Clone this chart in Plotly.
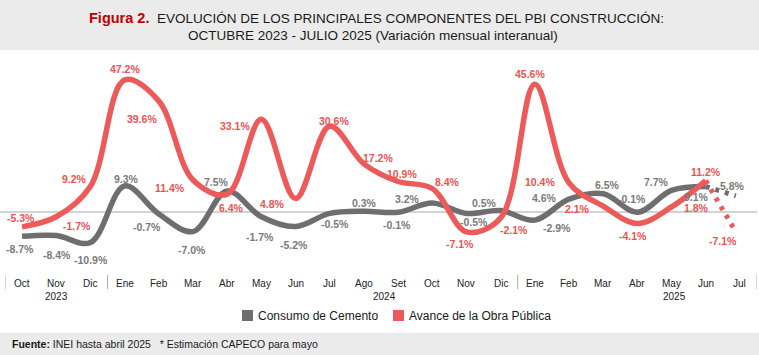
import plotly.graph_objects as go

# ---------------- data ----------------
months = ["Oct", "Nov", "Dic", "Ene", "Feb", "Mar", "Abr", "May", "Jun", "Jul", "Ago", "Set",
          "Oct", "Nov", "Dic", "Ene", "Feb", "Mar", "Abr", "May", "Jun", "Jul"]
years = ["2023", "2024", "2025"]
cemento = [-8.7, -8.4, -10.9, 9.3, -0.7, -7.0, 7.5, -1.7, -5.2, -0.5, 0.3, -0.1,
           3.2, -0.5, 0.5, -2.9, 4.6, 6.5, -0.1, 7.7, 9.1, 5.8]
obra = [-5.3, -1.7, 9.2, 47.2, 39.6, 11.4, 6.4, 33.1, 4.8, 30.6, 17.2, 10.9,
        8.4, -7.1, -2.1, 45.6, 10.4, 2.1, -4.1, 1.8, 11.2, -7.1]
series_names = ["Consumo de Cemento", "Avance de la Obra Pública"]
title_bold = "Figura 2."
title_line1 = "EVOLUCIÓN DE LOS PRINCIPALES COMPONENTES DEL PBI CONSTRUCCIÓN:"
title_line2 = "OCTUBRE 2023 - JULIO 2025 (Variación mensual interanual)"
footer_bold = "Fuente:"
footer_text = "INEI hasta abril 2025   * Estimación CAPECO para mayo"

# ---------------- styles / layout helpers ----------------
W, H = 759, 355
PL, PR, PT, PB = 5, 757, 50, 272   # plot area in pixels
N_SOLID = 21                       # last segment drawn dotted (estimate)
year_pos = [1, 10.6, 19.1]
year_bounds = [-0.5, 2.5, 14.5, 21.5]
GRAY = "#6E6E6E"
RED = "#EC5A5A"
GRAY_LBL = "#7A7A7A"
RED_LBL = "#EE5252"
FONT = "Liberation Sans, Arial"

# label offsets (px, dy positive = down)
red_off = [(-1, -9), (21, 9), (-16, -7), (0, -11), (-17, 18), (-23, 8), (4, 14), (-26, 7),
           (-23, 5), (4, -5), (14, -6), (4, -7), (15, -6), (-6, 12), (13, 12), (-5, -10),
           (-29, -1), (-26, 3), (-4, 13), (25, 1), (0, -9), (-17, 9)]
gray_off = [(-2, 13), (1, 19), (1, 17), (2, -7), (-12, 13), (-1, 18), (-11, -9), (-1, 20),
            (-2, 18), (5, 11), (1, -8), (-1, 13), (-25, -4), (8, 9), (-16, -8), (22, 8),
            (-25, -1), (4, -9), (-5, -13), (-15, -8), (-9, 10), (-7, -10)]

zero_px = 212
scale = 2.8
y_top = (zero_px - PT) / scale
y_bot = -(PB - zero_px) / scale


def px_x(x):
    return (x - PL) / (PR - PL)


def px_y(y):
    return (PB - y) / (PB - PT)


x = list(range(len(months)))
fig = go.Figure()

for vals, col in [(cemento, GRAY), (obra, RED)]:
    fig.add_trace(go.Scatter(x=x[:N_SOLID], y=vals[:N_SOLID], mode="lines",
                             line=dict(color=col, width=5.5, shape="spline", smoothing=1.0),
                             showlegend=False, hoverinfo="skip"))
    fig.add_trace(go.Scatter(x=[x[N_SOLID - 1], x[-1] - 0.12], y=[vals[N_SOLID - 1], vals[-1]],
                             mode="lines",
                             line=dict(color=col, width=5, dash="4px,6px"),
                             showlegend=False, hoverinfo="skip"))

annotations = []


def ann(**kw):
    kw.setdefault("showarrow", False)
    kw.setdefault("xanchor", "center")
    kw.setdefault("yanchor", "middle")
    annotations.append(kw)


for vals, offs, col in [(cemento, gray_off, GRAY_LBL), (obra, red_off, RED_LBL)]:
    for i, v in enumerate(vals):
        dx, dy = offs[i]
        ann(x=x[i], y=v, xref="x", yref="y", text=f"{v:.1f}%", xshift=dx, yshift=-dy,
            font=dict(family=FONT, size=10.5, color=col, weight="bold"))

# month tick labels (on the category axis positions)
for i, m in enumerate(months):
    ann(x=x[i], y=px_y(283), xref="x", yref="paper", text=m,
        font=dict(family=FONT, size=10, color="#222"))
# years
for yl, p in zip(years, year_pos):
    ann(x=p, y=px_y(296), xref="x", yref="paper", text=yl,
        font=dict(family=FONT, size=10, color="#222"))

# title
ann(x=px_x(376), y=px_y(18), xref="paper", yref="paper",
    text=f"<b><span style='color:#C00000;font-size:14.5px'>{title_bold}</span></b>  {title_line1}",
    font=dict(family=FONT, size=13.5, color="#1a1a1a"))
ann(x=px_x(373), y=px_y(35), xref="paper", yref="paper", text=title_line2,
    font=dict(family=FONT, size=13.5, color="#1a1a1a"))

# legend (squares + text)
shapes = []
leg_sq = [242, 393]
for name, col, sx in zip(series_names, [GRAY, RED], leg_sq):
    shapes.append(dict(type="rect", xref="paper", yref="paper",
                       x0=px_x(sx), x1=px_x(sx + 11), y0=px_y(321), y1=px_y(310),
                       fillcolor=col, line=dict(width=0)))
    ann(x=px_x(sx + 14), y=px_y(315.5), xref="paper", yref="paper", text=name, xanchor="left",
        font=dict(family=FONT, size=12, color="#1a1a1a"))

# footer
shapes.append(dict(type="rect", xref="paper", yref="paper", x0=px_x(0), x1=px_x(W),
                   y0=px_y(H), y1=px_y(333), fillcolor="#EBEBEB", line=dict(width=0), layer="below"))
ann(x=px_x(10), y=px_y(344), xref="paper", yref="paper",
    text=f"<b>{footer_bold}</b> {footer_text}", xanchor="left",
    font=dict(family=FONT, size=10.5, color="#1a1a1a"))

# title band
shapes.append(dict(type="rect", xref="paper", yref="paper", x0=px_x(0), x1=px_x(W),
                   y0=px_y(50), y1=px_y(0), fillcolor="#EBEBEB", line=dict(width=0), layer="below"))

# zero line
shapes.append(dict(type="line", xref="paper", yref="y", x0=px_x(0), x1=px_x(757), y0=0, y1=0,
                   line=dict(color="#C4C4C4", width=1.5), layer="below"))

# year separators
for b in year_bounds:
    shapes.append(dict(type="line", xref="x", yref="paper", x0=b, x1=b,
                       y0=px_y(275), y1=px_y(289), line=dict(color="#A8A8A8", width=1)))

fig.update_layout(
    width=W, height=H,
    margin=dict(l=PL, r=W - PR, t=PT, b=H - PB, pad=0),
    paper_bgcolor="white", plot_bgcolor="white",
    showlegend=False,
    xaxis=dict(range=[-0.5, len(months) - 0.5], showticklabels=False,
               showgrid=False, zeroline=False, showline=False, ticks="", fixedrange=True),
    yaxis=dict(range=[y_bot, y_top], showgrid=False, zeroline=False, showline=False,
               showticklabels=False, ticks="", fixedrange=True),
    annotations=annotations,
    shapes=shapes,
)

fig.write_html("out.html", config={"displayModeBar": False},
               post_script="document.body.style.margin='0';document.body.style.padding='0';")
